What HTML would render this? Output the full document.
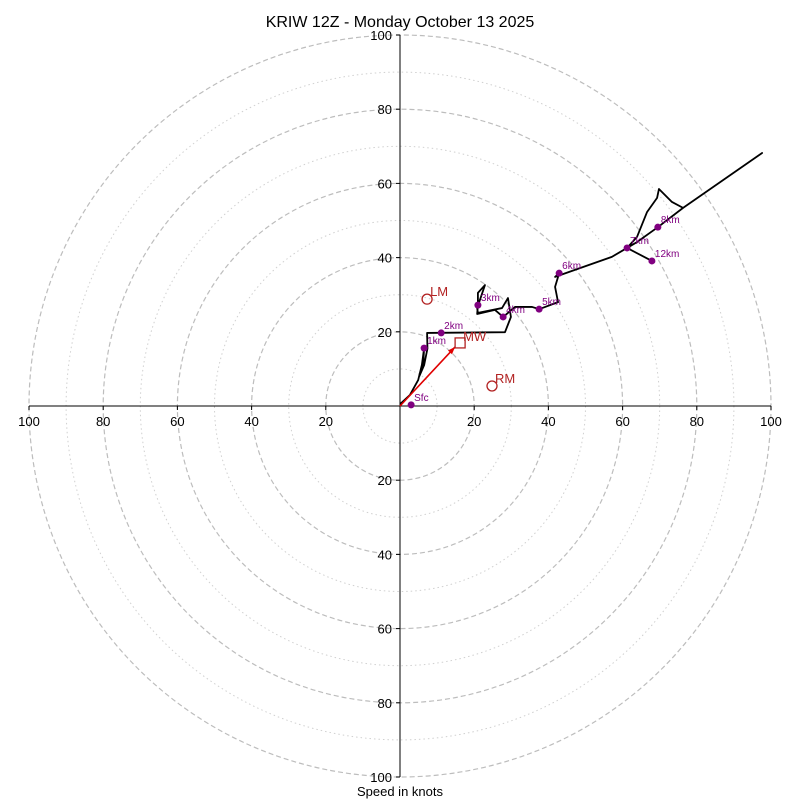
<!DOCTYPE html>
<html><head><meta charset="utf-8"><style>
body{margin:0;background:#fff}
svg text{font-family:"Liberation Sans","DejaVu Sans",sans-serif}
</style></head><body>
<svg id="c" width="800" height="800" viewBox="0 0 800 800">
<text x="400" y="27" font-size="16" text-anchor="middle">KRIW 12Z - Monday October 13 2025</text>
<text x="400" y="796" font-size="13" text-anchor="middle">Speed in knots</text>
<g id="rings"></g><g id="axes"></g><g id="trace"></g><g id="marks"></g>
</svg>
<script>
const ringValues=[10,20,30,40,50,60,70,80,90,100];
const tickValues=[20,40,60,80,100];
const traceU=[0,2.7,4.9,5.9,6.5,6.3,5.2,6.5,7.4,7.3,28.3,29.9,29.1,27.5,21.0,20.8,22.9,21.0,21.0,20.8,25.6,27.8,31.0,35.6,37.5,42.6,41.8,42.9,41.8,57.1,61.2,63.9,69.5,76.3,97.6,76.3,73.3,69.8,69.3,66.6,63.9,61.2,67.9];
const traceV=[0.5,3.0,7.0,11.1,15.6,12.0,8.0,11.0,15.5,19.7,19.9,24.0,29.1,26.4,25.1,26.4,32.6,30.5,27.2,24.8,25.9,24.0,26.7,26.7,26.1,28.0,32.1,35.8,34.8,40.2,42.6,44.2,48.2,53.4,68.2,53.4,55.0,58.5,56.1,52.3,45.6,42.6,39.1];
const heightLabels=["Sfc","1km","2km","3km","4km","5km","6km","7km","8km","12km"];
const heightU=[3,6.5,11.1,21,27.8,37.5,42.9,61.2,69.5,67.9];
const heightV=[0.3,15.6,19.7,27.2,24,26.1,35.8,42.6,48.2,39.1];
const stormLabels=["LM","RM"];
const stormU=[7.3,24.8];
const stormV=[28.8,5.4];
const meanWindU=16.2, meanWindV=17.0;

const CX=400,CY=406,S=3.71;
const X=u=>CX+u*S, Y=v=>CY-v*S;
const NS="http://www.w3.org/2000/svg";
function mk(tag,parent,attrs){const e=document.createElementNS(NS,tag);for(const k in attrs)e.setAttribute(k,attrs[k]);parent.appendChild(e);return e;}
const rings=document.getElementById('rings'),axes=document.getElementById('axes'),trace=document.getElementById('trace'),marks=document.getElementById('marks');
ringValues.forEach(r=>{const major=r%20===0;
 const c=mk('circle',rings,{cx:CX,cy:CY,r:r*S,fill:'none',stroke:major?'#bdbdbd':'#d0d0d0','stroke-width':major?1.2:1,'stroke-dasharray':major?'5,3':'1.5,3'});
 
 });
let l=mk('line',axes,{x1:X(-100),y1:CY,x2:X(100),y2:CY,stroke:'#000','stroke-width':1});


l=mk('line',axes,{x1:CX,y1:Y(100),x2:CX,y2:Y(-100),stroke:'#000','stroke-width':1});


tickValues.forEach(t=>{[-1,1].forEach(s=>{
 mk('line',axes,{x1:X(s*t),y1:CY,x2:X(s*t),y2:CY+4,stroke:'#000'});
 const tx=mk('text',axes,{x:X(s*t),y:CY+20,'font-size':13,'text-anchor':'middle'});tx.textContent=t;
 
 
 mk('line',axes,{x1:CX-4,y1:Y(s*t),x2:CX,y2:Y(s*t),stroke:'#000'});
 const ty=mk('text',axes,{x:CX-8,y:Y(s*t)+5,'font-size':13,'text-anchor':'end'});ty.textContent=t;
 
 });});
const p=mk('polyline',trace,{points:traceU.map((u,i)=>X(u)+','+Y(traceV[i])).join(' '),fill:'none',stroke:'#000','stroke-width':1.8,'stroke-linejoin':'round'});


const ax=X(meanWindU)-5,ay=Y(meanWindV)+4;
const ar=mk('line',marks,{x1:CX,y1:CY,x2:ax,y2:ay,stroke:'#e00000','stroke-width':1.6});


const ang=Math.atan2(ay-CY,ax-CX),h=8;
mk('polygon',marks,{points:`${ax},${ay} ${ax-h*Math.cos(ang-0.35)},${ay-h*Math.sin(ang-0.35)} ${ax-h*Math.cos(ang+0.35)},${ay-h*Math.sin(ang+0.35)}`,fill:'#e00000'});
const sq=mk('rect',marks,{x:X(meanWindU)-5,y:Y(meanWindV)-5,width:10,height:10,fill:'none',stroke:'#b22222','stroke-width':1.3});


const mwt=mk('text',marks,{x:X(meanWindU)+3,y:Y(meanWindV)-2,'font-size':13,fill:'#b22222'});mwt.textContent='MW';


stormLabels.forEach((n,i)=>{
 const c=mk('circle',marks,{cx:X(stormU[i]),cy:Y(stormV[i]),r:5,fill:'none',stroke:'#b22222','stroke-width':1.3});
 
 
 const t=mk('text',marks,{x:X(stormU[i])+3,y:Y(stormV[i])-3,'font-size':13,fill:'#b22222'});t.textContent=n;
 
 });
heightLabels.forEach((n,i)=>{
 const c=mk('circle',marks,{cx:X(heightU[i]),cy:Y(heightV[i]),r:3.5,fill:'#800080'});
 
 
 const t=mk('text',marks,{x:X(heightU[i])+3,y:Y(heightV[i])-4,'font-size':10,fill:'#800080'});t.textContent=n;
 
 });
</script>
</body></html>
